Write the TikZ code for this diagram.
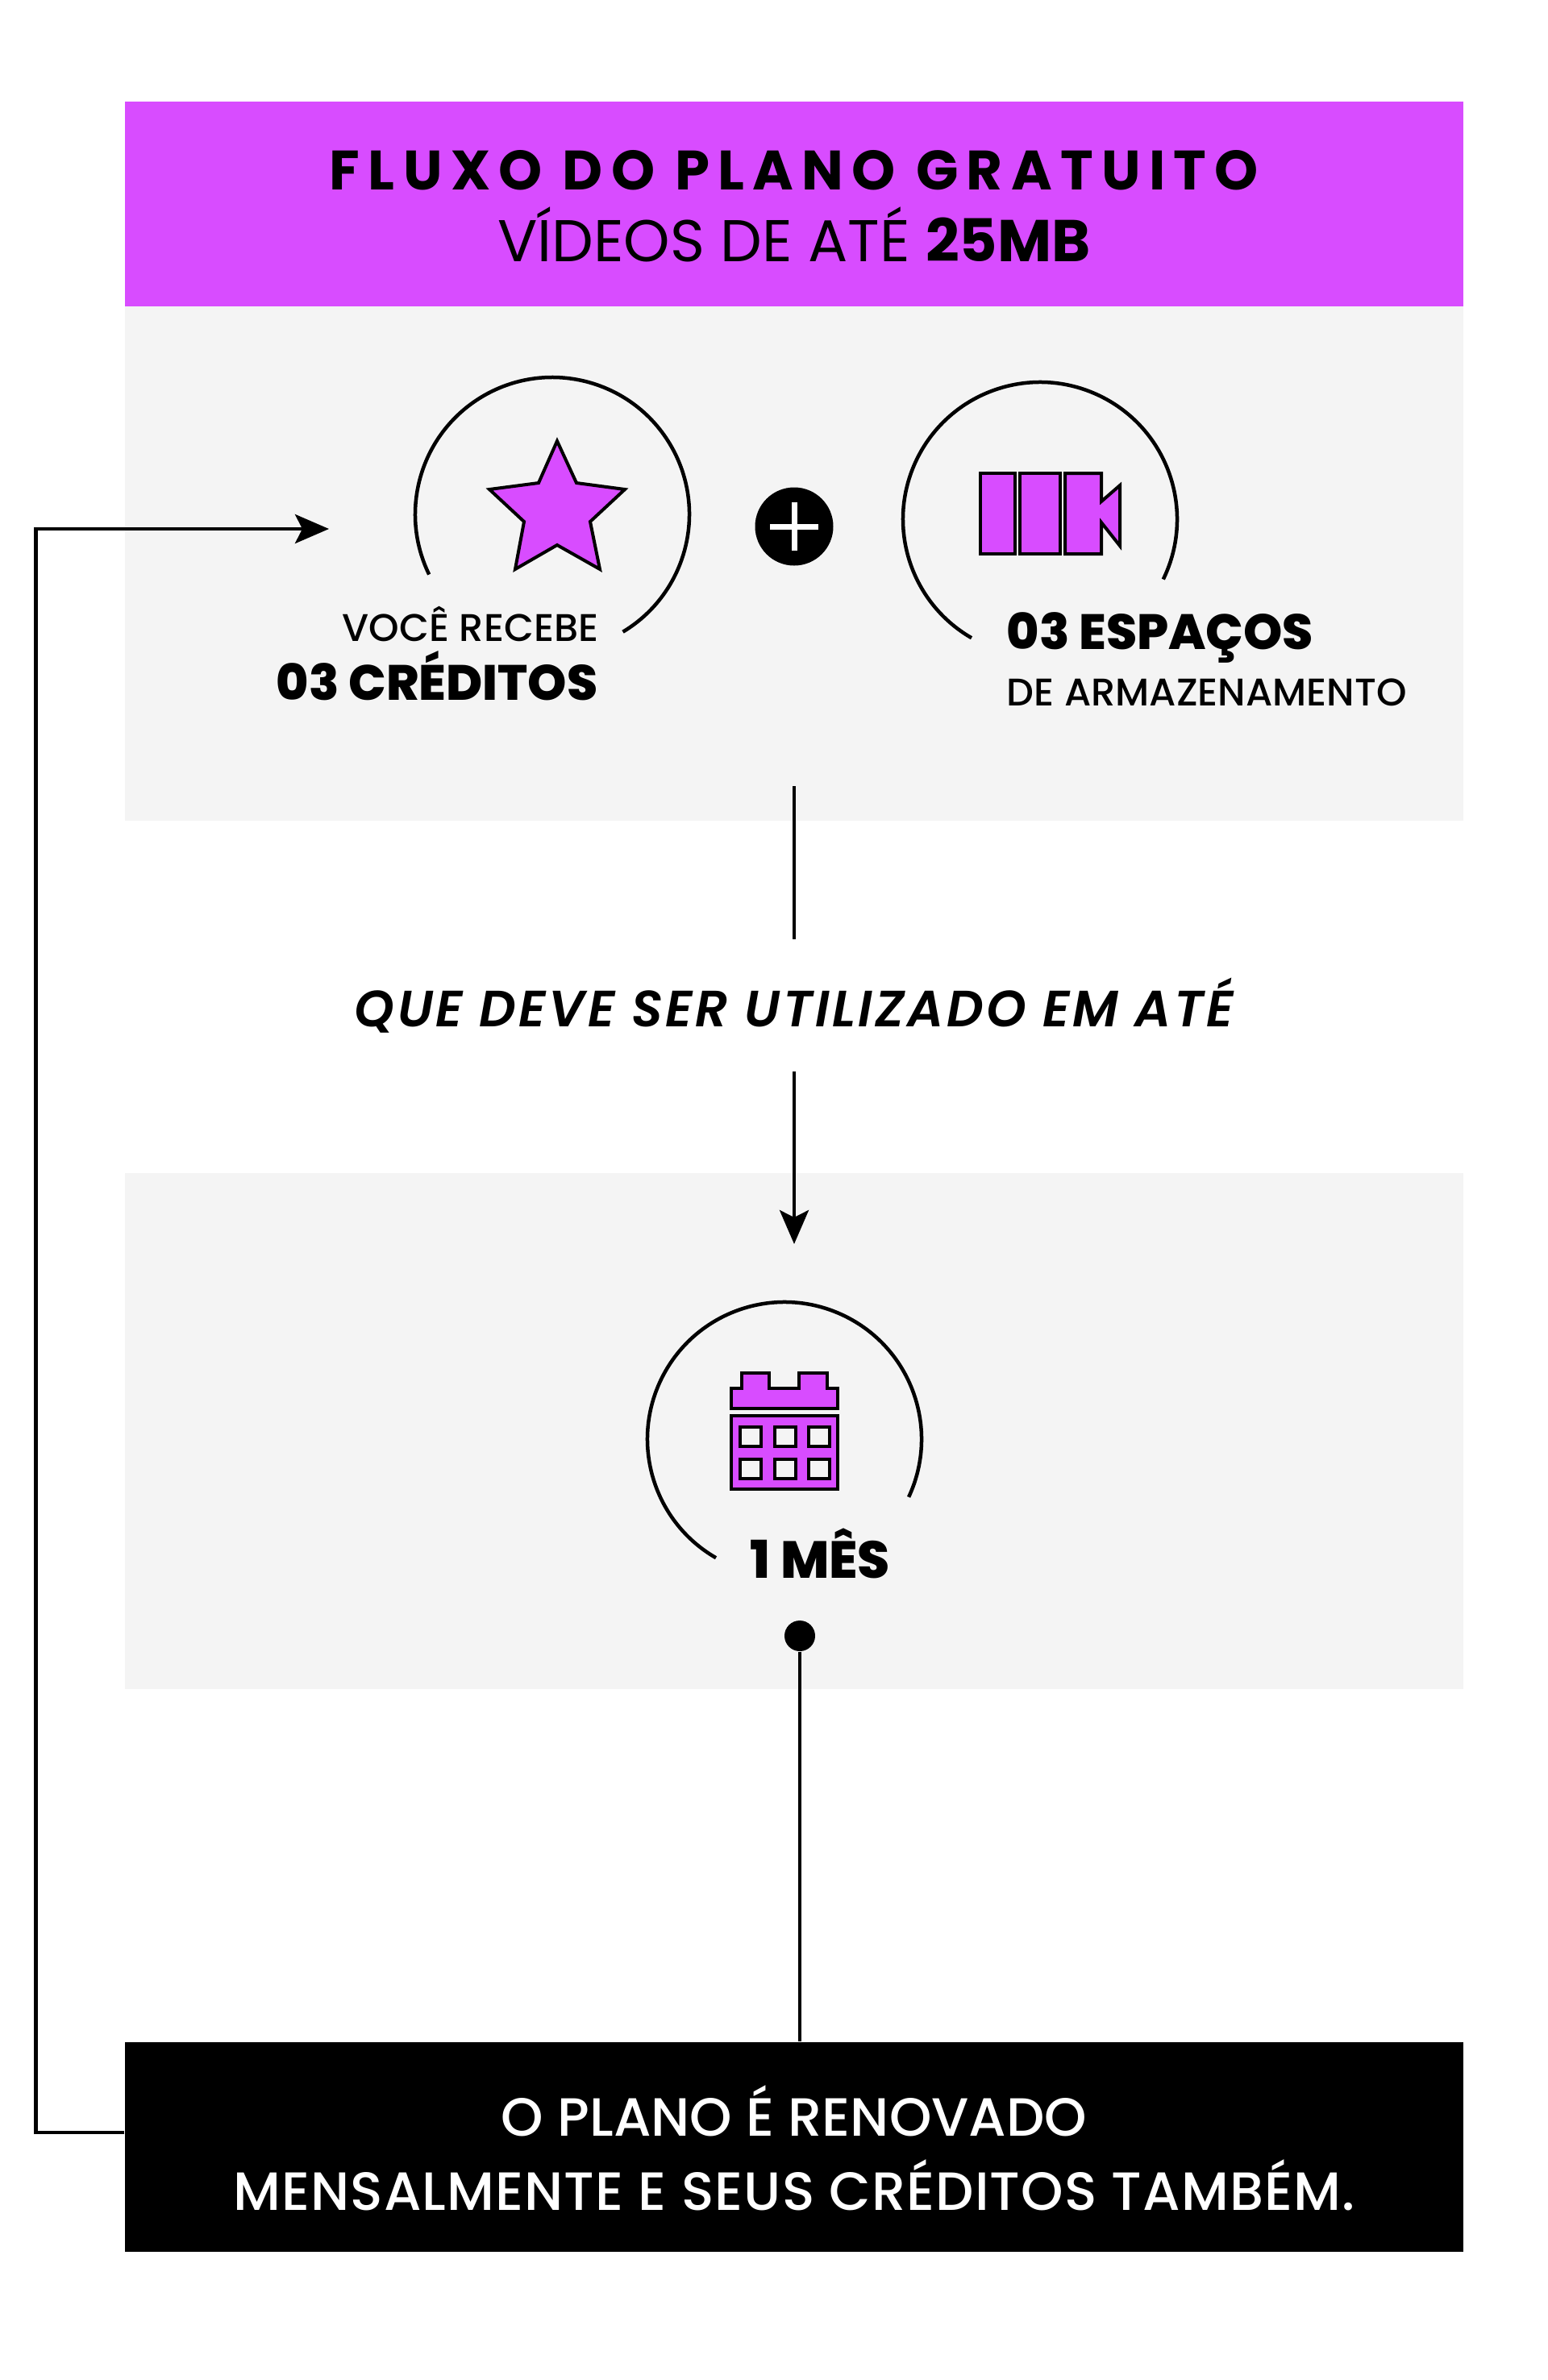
\documentclass[tikz,border=0pt]{standalone}
\usepackage{fontspec}
\setmainfont{Poppins}
\newfontfamily\medfont{Poppins Medium}
\newfontfamily\heavyfont{Poppins ExtraBold}
\newfontfamily\semifont{Poppins SemiBold Italic}
\usetikzlibrary{arrows.meta}
\definecolor{plum}{HTML}{D84CFF}
\definecolor{panel}{HTML}{F4F4F4}
\tikzset{
	headerbox/.style={fill=plum,minimum width=16.6cm,minimum height=2.54cm,inner sep=0pt},
	panelbox/.style={fill=panel,minimum width=16.6cm,inner sep=0pt},
	renewbox/.style={fill=black,minimum width=16.6cm,minimum height=2.6cm,inner sep=0pt},
	labeltext/.style={inner sep=0pt,text=black},
	bigtext/.style={labeltext,font=\heavyfont\fontsize{17.5}{20}\selectfont},
	smalltext/.style={labeltext,font=\medfont\fontsize{13.6}{15}\selectfont},
	ringline/.style={line width=0.045cm,draw=black},
	iconline/.style={line width=0.04cm,draw=black,fill=plum},
	flowline/.style={line width=0.045cm,draw=black},
	flowarrow/.style={flowline,-{Stealth[length=0.42cm,width=0.36cm,inset=0.09cm]}}
}
\begin{document}
\begin{tikzpicture}
	\useasboundingbox (0,0) rectangle (19.2,-29.52);

	\draw (9.85,-2.53) node[headerbox] (header) {};
	\draw (9.85,-6.99) node[panelbox,minimum height=6.38cm] (offer) {};
	\draw (9.85,-17.75) node[panelbox,minimum height=6.4cm] (term) {};
	\draw (9.85,-26.63) node[renewbox] (renew) {};

	\draw (9.85,-2.35) node[labeltext,anchor=base] (title) {\fontsize{19.6}{22}\selectfont\addfontfeatures{LetterSpace=15}\bfseries FLUXO DO PLANO GRATUITO};
	\draw (9.85,-3.24) node[labeltext,anchor=base] (subtitle) {\fontsize{20.8}{24}\selectfont VÍDEOS DE ATÉ \textbf{25MB}};
	\draw (9.85,-26.49) node[labeltext,anchor=base,text=white] (renewa) {\medfont\fontsize{19}{24}\selectfont O PLANO É RENOVADO};
	\draw (9.85,-27.41) node[labeltext,anchor=base,text=white] (renewb) {\medfont\fontsize{19}{24}\selectfont\addfontfeatures{LetterSpace=1.6}MENSALMENTE E SEUS CRÉDITOS TAMBÉM.};

	\draw[ringline] (6.85,-6.38) ++(-59:1.70) arc[start angle=-59,end angle=206,radius=1.70];
	\draw[iconline] (6.91,-5.47) -- (7.15,-5.99) -- (7.75,-6.07) -- (7.32,-6.47) -- (7.44,-7.06) -- (6.91,-6.76) -- (6.39,-7.06) -- (6.50,-6.47) -- (6.07,-6.07) -- (6.68,-5.99) -- cycle;

	\draw[ringline] (12.90,-6.44) ++(-26:1.70) arc[start angle=-26,end angle=240,radius=1.70];
	\draw[iconline] (12.16,-5.87) rectangle (12.59,-6.87);
	\draw[iconline] (12.65,-5.87) rectangle (13.15,-6.87);
	\draw[iconline] (13.21,-5.87) -- (13.66,-5.87) -- (13.66,-6.22) -- (13.89,-6.02) -- (13.89,-6.77) -- (13.66,-6.48) -- (13.66,-6.87) -- (13.21,-6.87) -- cycle;

	\draw[ringline] (9.73,-17.85) ++(-25:1.70) arc[start angle=-25,end angle=240,radius=1.70];
	\draw[iconline] (9.07,-17.22) -- (9.20,-17.22) -- (9.20,-17.03) -- (9.54,-17.03) -- (9.54,-17.22) -- (9.91,-17.22) -- (9.91,-17.03) -- (10.26,-17.03) -- (10.26,-17.22) -- (10.39,-17.22) -- (10.39,-17.47) -- (9.07,-17.47) -- cycle;
	\draw[iconline] (9.07,-17.56) rectangle (10.39,-18.47);
	\foreach \xcell in {9.18,9.61,10.03}
		\foreach \ycell in {-17.70,-18.10}
			\draw[line width=0.04cm,draw=black,fill=panel] (\xcell,\ycell) rectangle ++(0.26,-0.24);

	\draw (9.85,-6.53) node[circle,fill=black,minimum size=0.97cm,inner sep=0pt] (plus) {};
	\draw[white,line width=0.07cm] (plus.center) ++(-0.30,0) -- ++(0.60,0) (plus.center) ++(0,-0.30) -- ++(0,0.60);

	\draw (7.43,-7.95) node[smalltext,anchor=base east] (receive) {VOCÊ RECEBE};
	\draw (7.42,-8.68) node[bigtext,anchor=base east] (credits) {03 CRÉDITOS};
	\draw (12.48,-8.05) node[bigtext,anchor=base west] (spaces) {03 ESPAÇOS};
	\draw (12.48,-8.75) node[smalltext,anchor=base west] (storage) {DE ARMAZENAMENTO};
	\draw (9.30,-19.57) node[bigtext,anchor=base west] (month) {\fontsize{18.4}{20}\selectfont 1 MÊS};

	\draw (9.85,-12.47) node[labeltext,minimum height=1.62cm] (until) {\semifont\fontsize{18}{20}\selectfont\addfontfeatures{LetterSpace=5.5}QUE DEVE SER UTILIZADO EM ATÉ};

	\draw (9.92,-20.29) node[circle,fill=black,minimum size=0.38cm,inner sep=0pt] (dot) {};

	\coordinate (offerout) at (9.85,-9.75);
	\coordinate (termin) at (9.85,-15.43);
	\coordinate (creditsin) at (4.08,-6.56);

	\path
	(offerout) edge[flowline] (until)
	(until) edge[flowarrow] (termin)
	(dot) edge[flowline] (dot |- renew.north)
	;
	\draw[flowarrow] ([yshift=0.18cm]renew.west) -- ++(-1.10,0) |- (creditsin);
\end{tikzpicture}
\end{document}
